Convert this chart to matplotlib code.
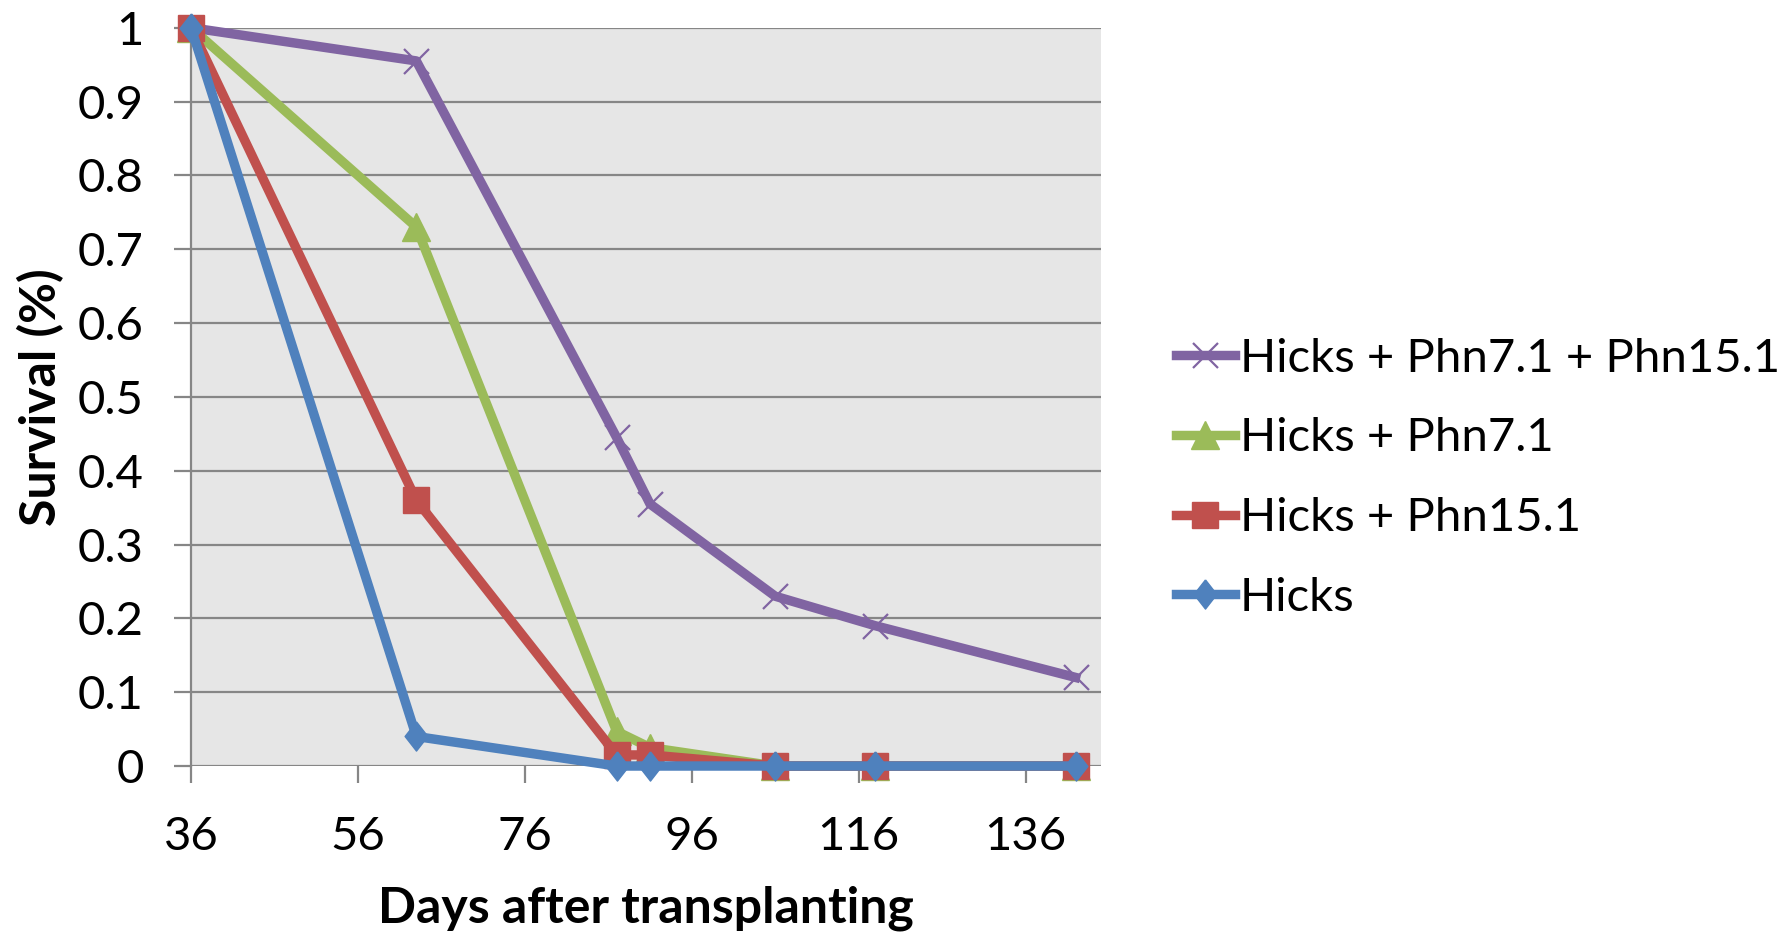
import matplotlib
matplotlib.use("Agg")
import matplotlib.pyplot as plt

# survival per line over days after transplanting
days = [36, 63, 87, 91, 106, 118, 142]
hicks = [1, 0.04, 0, 0, 0, 0, 0]
hicks_phn15 = [1, 0.36, 0.015, 0.015, 0, 0, 0]
hicks_phn7 = [1, 0.73, 0.047, 0.025, 0, 0, 0]
hicks_both = [1, 0.955, 0.445, 0.355, 0.23, 0.19, 0.12]

x_ticks = [36, 56, 76, 96, 116, 136]
y_ticks = [0, 0.1, 0.2, 0.3, 0.4, 0.5, 0.6, 0.7, 0.8, 0.9, 1]

plt.rcParams['font.family'] = ['Lato', 'DejaVu Sans']

fig = plt.figure(figsize=(17.87, 9.36), dpi=100)
ax = fig.add_axes([0.1069, 0.1816, 0.5090, 0.7888])
ax.set_facecolor('#e6e6e6')

diamond = [(0, 1), (0.78, 0), (0, -1), (-0.78, 0), (0, 1)]
lw = 6.8

ax.plot(days, hicks_both, color='#8064a2', lw=lw, marker='x', ms=18, mew=1.6,
        label='Hicks + Phn7.1 + Phn15.1', zorder=3, clip_on=False)
ax.plot(days, hicks_phn7, color='#9bbb59', lw=lw, marker='^', ms=20,
        label='Hicks + Phn7.1', zorder=4, clip_on=False)
ax.plot(days, hicks_phn15, color='#c0504d', lw=lw, marker='s', ms=18.5,
        label='Hicks + Phn15.1', zorder=5, clip_on=False)
ax.plot(days, hicks, color='#4f81bd', lw=lw, marker=diamond, ms=21,
        label='Hicks', zorder=6, clip_on=False)

ax.set_xlim(36, 145)
ax.set_ylim(0, 1)
ax.set_xticks(x_ticks)
ax.set_yticks(y_ticks)
ax.set_yticklabels(['0', '0.1', '0.2', '0.3', '0.4', '0.5', '0.6', '0.7', '0.8', '0.9', '1'])

ax.yaxis.grid(True, color='#868686', lw=1.6)
ax.set_axisbelow(True)
for side in ['top', 'right', 'bottom']:
    ax.spines[side].set_visible(False)
ax.spines['left'].set_color('#868686')
ax.spines['left'].set_linewidth(1.6)

ax.tick_params(axis='both', direction='out', length=12, width=1.6,
               color='#868686', labelsize=34)
ax.tick_params(axis='y', pad=22)
ax.tick_params(axis='x', pad=24)

ax.set_xlabel('Days after transplanting', fontsize=36, fontweight='bold', labelpad=20)
ax.set_ylabel('Survival (%)', fontsize=36, fontweight='bold', labelpad=10)

fig.legend(loc='center left', bbox_to_anchor=(0.658, 0.489), frameon=False,
           fontsize=34, handlelength=1.25, handletextpad=0.1, labelspacing=0.8,
           borderpad=0, borderaxespad=0)

fig.savefig('out.png', dpi=100)
